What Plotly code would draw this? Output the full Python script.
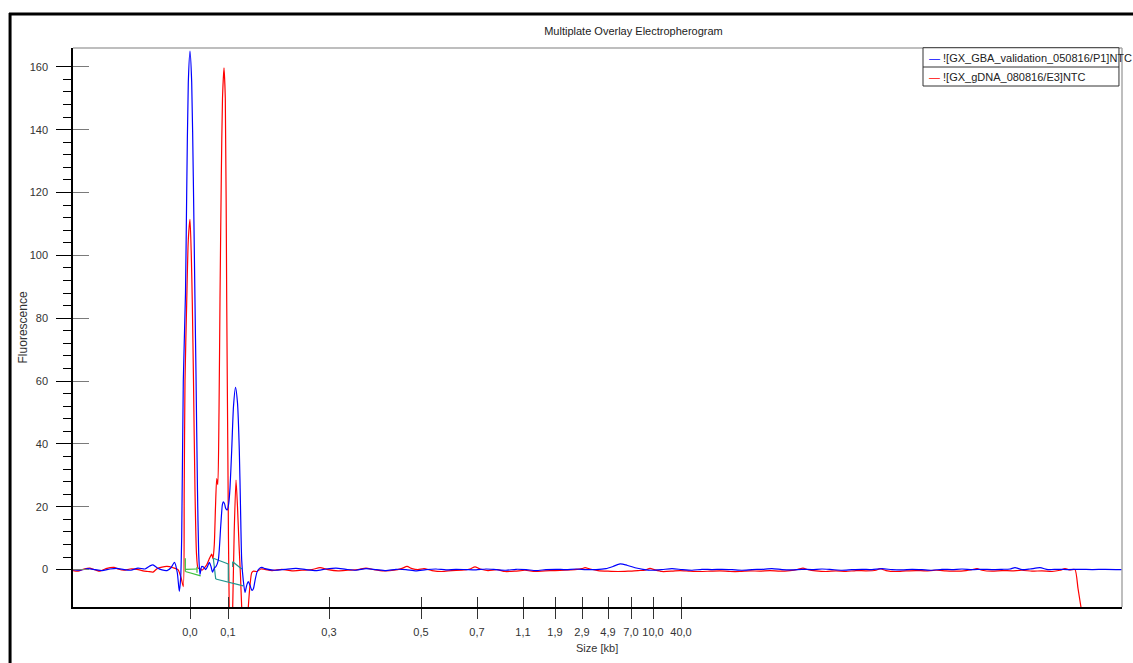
import plotly.graph_objects as go

# Migration axis: scan position (arbitrary units) with sizing-ladder ticks
ladder_pos = [117, 155, 256, 348, 404, 450, 482, 509, 535, 558, 580, 608]
ladder_lbl = ["0,0", "0,1", "0,3", "0,5", "0,7", "1,1", "1,9", "2,9", "4,9", "7,0", "10,0", "40,0"]

series_names = ["![GX_GBA_validation_050816/P1]NTC", "![GX_gDNA_080816/E3]NTC"]

# Well P1 (blue)
blue_x = [0, 7, 15, 22, 29, 37, 44, 51, 58, 65, 72, 77, 80, 84, 89, 94, 98, 101.5, 104.3, 106.3,
          107.7, 108.7, 110.3, 112.5, 113.7, 115.3, 117, 118.7, 120.3, 122, 123, 124.5, 125.7, 127,
          128.7, 130.5, 132.7, 134.5, 136.3, 138, 139.5, 141.3, 143, 145.3, 147.7, 149.3, 150.3,
          151.5, 152.7, 154.3, 155.7, 157, 158.7, 160.5, 162.5, 164.5, 166.3, 167.5, 168.7, 170.3,
          172, 173.7, 175.3, 177, 179, 180.5, 182, 184, 186.5, 189, 192,
          202, 212, 223, 233, 243, 253, 263, 273, 283, 293, 303, 313, 323, 333, 343, 353, 363, 373,
          383, 393, 403, 413, 423, 433, 443, 453, 463, 473, 483, 493, 503, 513, 523, 533, 540, 547,
          554, 562, 570, 579, 589, 599, 609, 619, 629, 639, 649, 659, 669, 679, 689, 699, 709, 719,
          729, 739, 749, 759, 769, 779, 789, 799, 809, 819, 829, 839, 849, 859, 869, 879, 889, 899,
          909, 919, 929, 937, 942, 949, 957, 967, 975, 985, 995, 1007, 1019, 1032, 1049]
blue_y = [0.0, -0.2, 0.3, 0.0, -0.3, 0.2, 0.4, 0.0, -0.2, 0.5, 0.2, 1.2, 1.5, 0.6, -0.1, -0.3, 0.6, 2.3, -1.0, -6.9,
          -2.5, 10.5, 60, 88, 120, 155, 165, 155, 125, 85, 62, 25, 5, -1.6,
          1.0, 0.8, 0.0, 1.0, 2.3, 1.0, -0.8, 0.5, 1.0, 3.0, 13.7, 20.5, 21.6,
          21.0, 19.5, 19.0, 21.0, 26, 38, 52, 58, 53, 38, 20, 3, -3.5,
          -7.3, -5.0, -3.8, -5.0, -6.6, -6.0, -3.5, -0.8, 0.4, 0.7, 0.3,
          -0.2, 0.1, 0.4, 0.0, -0.3, 0.2, 0.5, 0.1, -0.2, 0.3, 0.0, -0.3, 0.1, 0.0, -0.4, 0.0, 0.2, -0.1,
          0.1, 0.0, -0.1, 0.2, 0.0, -0.2, 0.1, 0.0, -0.3, 0.0, 0.1, 0.0, 0.2, 0.0, 0.0, 0.3, 1.0, 1.8,
          1.4, 0.6, 0.1, -0.2, 0.0, 0.3, 0.0, -0.2, 0.1, 0.0, 0.1, 0.0, -0.2, 0.0, 0.1, 0.3, 0.0, -0.1,
          0.1, 0.0, 0.2, 0.0, -0.2, 0.0, 0.1, 0.0, 0.3, 0.0, -0.1, 0.1, 0.0, -0.2, 0.1, 0.0, 0.2, 0.0,
          0.1, 0.0, 0.1, 0.2, 0.6, 0.0, 0.2, 0.6, 0.0, 0.1, 0.0, 0.1, 0.0, 0.1, 0.0]

# Well E3 (red)
red_x = [0, 5, 11, 17, 23, 27, 33, 41, 45, 51, 57, 64, 70, 75, 80, 84, 89, 94, 100, 105, 108,
         110.3, 111.2, 112, 113.7, 115.3, 117, 118.3, 119.3, 120.5, 122, 123.5, 125, 127, 129, 131,
         133.7, 136, 138.7, 140, 141.3, 142.5, 143.7, 144.8, 146, 147, 148.3, 149.5, 151, 152.3,
         153.7, 155, 156.2, 158, 159.7, 161.2, 163, 164.5, 166, 167.5, 168.7, 172, 175.3, 177,
         178.7, 180.5, 184, 188,
         199, 209, 219, 229, 239, 247, 255, 265, 275, 285, 293, 301, 311, 321, 329, 334, 339, 345,
         351, 359, 369, 379, 389, 397, 402, 407, 415, 424, 432, 442, 452, 462, 472, 482, 492, 502,
         509, 512, 517, 525, 535, 545, 555, 565, 572, 577, 582, 589, 599, 607, 617, 627, 637, 647,
         657, 667, 677, 687, 697, 707, 717, 725, 730, 735, 743, 753, 763, 773, 783, 793, 803, 807,
         813, 823, 833, 843, 853, 863, 873, 883, 893, 899, 904, 909, 919, 929, 939, 949, 959, 969,
         979, 987, 992, 997, 1002, 1005, 1008, 1012]
red_y = [-0.3, -0.5, 0.2, 0.5, -0.2, -0.5, 0.3, 0.7, 0.2, -0.2, 0.2, 0.1, -0.4, -0.6, -0.8, 0.3, 0.8, 1.0, 0.6, 0.0, -2.5,
         -5.4, 25, 60, 85, 105, 111.5, 100, 85, 60, 25, 5, 0.5, 0.3, -0.2, 0.4,
         1.5, 3.2, 4.9, 3.5, 8, 20, 29, 27, 50, 86, 125, 150, 159.7, 150,
         86, 30, -12, -28, -12, 12, 28.5, 20, 8, -2, -12, -32, -12, -5,
         -1, -0.5, -0.6, 0.2,
         -0.3, 0.1, -0.4, -0.2, 0.0, 0.6, 0.0, -0.4, -0.2, 0.0, 0.5, 0.0, -0.4, -0.2, 0.4, 1.0, 0.3, 0.0,
         0.3, -0.3, -0.6, -0.3, -0.2, 0.2, 0.9, 0.2, -0.3, 0.0, -0.6, -0.5, -0.2, -0.6, -0.4, -0.3, -0.2, 0.0,
         0.3, 0.6, 0.2, -0.3, -0.5, -0.6, -0.5, -0.3, -0.2, 0.4, -0.1, -0.6, -0.5, -0.3, -0.5, -0.6, -0.5, -0.4,
         -0.6, -0.6, -0.4, -0.5, -0.3, -0.5, -0.3, 0.1, 0.5, 0.0, -0.4, -0.6, -0.4, -0.6, -0.3, -0.4, -0.2, 0.3,
         -0.3, -0.6, -0.4, -0.3, -0.4, -0.2, -0.4, -0.5, -0.3, 0.0, 0.3, -0.2, -0.5, -0.3, -0.4, -0.2, -0.5, -0.4,
         -0.6, -0.2, 0.3, -0.1, 0.0, -6, -12, -20]

# Peak baseline / integration markers
green_x = [112.3, 112.3, None, 112.3, 124, None, 124, 124, None, 112.3, 127.7]
green_y = [3.6, -0.6, None, 0.1, 0.2, None, 0.9, -1.0, None, -0.6, -2.0]
teal_x = [140.3, 155.3, None, 140.3, 142.7, None, 155.3, 155.3, None,
          159.7, 168.7, None, 159.7, 159.7, None, 142.7, 170.3]
teal_y = [3.6, 1.8, None, 3.6, -3.0, None, 1.8, -3.8, None,
          2.5, 0.2, None, 2.5, 0.8, None, -3.0, -5.2]

y_major = [0, 20, 40, 60, 80, 100, 120, 140, 160]
y_minor = [v for v in range(4, 160, 4) if v % 20]

FONT = "Liberation Sans, Arial, sans-serif"
BLUE = "#0000ff"
RED = "#ff0000"

fig = go.Figure()
fig.add_trace(go.Scatter(x=red_x, y=red_y, mode="lines", name=series_names[1],
                         line=dict(color=RED, width=1.2, shape="spline", smoothing=0.6)))
fig.add_trace(go.Scatter(x=green_x, y=green_y, mode="lines", line=dict(color="#3cc03c", width=1.2)))
fig.add_trace(go.Scatter(x=teal_x, y=teal_y, mode="lines", line=dict(color="#1f968c", width=1.2)))
fig.add_trace(go.Scatter(x=blue_x, y=blue_y, mode="lines", name=series_names[0],
                         line=dict(color=BLUE, width=1.2, shape="spline", smoothing=0.6)))
# empty trace that carries the overlaid tick axes
fig.add_trace(go.Scatter(x=[None], y=[None], xaxis="x2", yaxis="y2", hoverinfo="skip"))

tickfont = dict(family=FONT, size=11, color="#333333")

fig.update_layout(
    width=1133, height=663,
    margin=dict(l=73, r=11, t=48, b=56),
    paper_bgcolor="white", plot_bgcolor="white",
    showlegend=False,
    title=dict(text="Multiplate Overlay Electropherogram", x=0.5343, xref="paper", xanchor="center",
               y=1 - 31 / 663, yref="container", yanchor="middle",
               font=dict(family=FONT, size=11, color="#222222")),
    xaxis=dict(range=[0, 1049], tickmode="array", tickvals=ladder_pos, ticktext=ladder_lbl,
               ticks="outside", ticklen=10, tickcolor="#333333", tickwidth=1, tickangle=0,
               showline=True, linecolor="black", linewidth=1.5, showgrid=False, zeroline=False,
               tickfont=tickfont, ticklabelstandoff=4),
    xaxis2=dict(range=[0, 1049], overlaying="x", anchor="y", side="bottom", tickmode="array",
                tickvals=ladder_pos, ticks="inside", ticklen=10, tickcolor="#333333",
                showticklabels=False, showline=False, showgrid=False, zeroline=False),
    yaxis=dict(range=[-11.9, 166], tickmode="array", tickvals=y_major,
               ticks="outside", ticklen=15, tickcolor="black", tickwidth=1,
               minor=dict(tickmode="array", tickvals=y_minor, ticks="outside", ticklen=8,
                          tickcolor="black", tickwidth=1),
               showline=True, linecolor="black", linewidth=1.5, showgrid=False, zeroline=False,
               tickfont=tickfont, ticklabelstandoff=6),
    yaxis2=dict(range=[-11.9, 166], overlaying="y", anchor="x", side="left", tickmode="array",
                tickvals=y_major, ticks="inside", ticklen=16, tickcolor="#7a7a7a",
                showticklabels=False, showline=False, showgrid=False, zeroline=False),
)

# Window frame and plot border
shapes = [
    dict(type="line", xref="paper", yref="paper", x0=-0.0610, x1=1.02, y0=1.0608, y1=1.0608,
         line=dict(color="black", width=3)),
    dict(type="line", xref="paper", yref="paper", x0=-0.0600, x1=-0.0600, y0=1.0626, y1=-0.12,
         line=dict(color="black", width=3)),
    dict(type="line", xref="paper", yref="paper", x0=0, x1=1, y0=1, y1=1,
         line=dict(color="#a8a8a8", width=1.5)),
    dict(type="line", xref="paper", yref="paper", x0=1, x1=1, y0=0, y1=1,
         line=dict(color="#a8a8a8", width=1.5)),
    # legend box
    dict(type="rect", xref="paper", yref="paper", x0=0.8103, x1=0.9971, y0=0.932, y1=1.0005,
         line=dict(color="#333333", width=1), fillcolor="white"),
    dict(type="line", xref="paper", yref="paper", x0=0.8103, x1=0.9971, y0=0.966, y1=0.966,
         line=dict(color="#333333", width=1)),
]
fig.update_layout(shapes=shapes)

legend_rows = [(series_names[0], BLUE, 0.9827), (series_names[1], RED, 0.9481)]
annotations = [
    dict(text=f"<span style='color:{col}'>—</span> {name}", x=0.8141, y=yy, xref="paper", yref="paper",
         xanchor="left", yanchor="middle", showarrow=False,
         font=dict(family=FONT, size=11, color="#222222"))
    for name, col, yy in legend_rows
]
annotations += [
    dict(text="Fluorescence", x=-0.0477, y=0.5, xref="paper", yref="paper", textangle=-90,
         xanchor="center", yanchor="middle", showarrow=False,
         font=dict(family=FONT, size=12, color="#333333")),
    dict(text="Size [kb]", x=0.4992, y=-0.0739, xref="paper", yref="paper",
         xanchor="center", yanchor="middle", showarrow=False,
         font=dict(family=FONT, size=11, color="#333333")),
]
fig.update_layout(annotations=annotations)

fig.write_html("out.html")
